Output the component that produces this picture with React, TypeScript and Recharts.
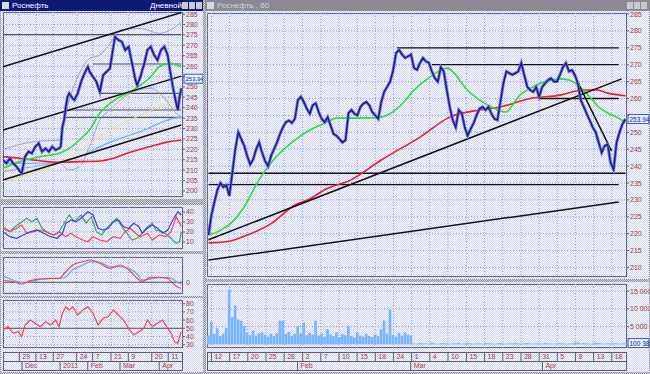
import React from "react";
import {
  LineChart, Line, BarChart, Bar, XAxis, YAxis, CartesianGrid, ReferenceLine,
} from "recharts";

const FONT = "'Liberation Sans', 'DejaVu Sans', sans-serif";
const LABEL = "#a33b3b";
const GRID = "#8d9be6";
const FRAME = "#5c5c6c";
const PLOT_BG = "repeating-conic-gradient(#d3d7f3 0% 25%, #f6f6fd 0% 50%) 0 0 / 2px 2px";
const CHROME = "repeating-conic-gradient(#8e8e96 0% 25%, #d2d2d8 0% 50%) 0 0 / 2px 2px";

// ---------- left window (daily) ----------
const leftPriceT = [0, 2, 4, 6, 8, 10, 11, 13, 15, 17, 19, 21, 23, 25, 27, 29, 31, 33, 34, 35, 36, 37, 38, 39, 41, 42, 44, 46, 48, 50, 51, 53, 55, 57, 58, 59, 61, 63, 65, 66, 68, 70, 72, 74, 76, 78, 79, 81, 82, 83, 85, 87, 89, 91, 93, 95, 97, 98, 99, 100, 101, 102, 103, 104, 105];
const leftPrice = [214.9, 213.3, 215.7, 213.3, 211.7, 209.3, 208.5, 216.5, 218.9, 218.1, 221.3, 222.9, 218.9, 220.5, 218.9, 221.3, 219.7, 220.5, 221.3, 230.9, 234.1, 240.5, 245.3, 246.9, 244.5, 243.7, 246.9, 252.5, 256.5, 259.7, 257.3, 254.9, 252.5, 247.7, 251.7, 255.7, 257.3, 258.9, 269.3, 274.1, 272.5, 271.7, 267.7, 269.3, 261.3, 253.3, 250.9, 254.9, 258.1, 260.5, 267.7, 269.3, 265.3, 262.9, 267.7, 269.3, 265.3, 259.7, 254.9, 250.1, 246.1, 242.1, 238.9, 245.3, 249.3];
const leftGreenT = [0, 10, 22, 33, 39, 45, 51, 57, 63, 69, 75, 81, 87, 92, 98, 102, 105];
const leftGreen = [210.9, 214.1, 216.5, 218.1, 220.5, 224.5, 229.3, 237.3, 242.1, 245.3, 247.7, 250.9, 254.9, 259.7, 261.3, 260.5, 259.7];
const leftRedT = [0, 10, 22, 33, 45, 57, 65, 73, 81, 90, 98, 105];
const leftRed = [216.5, 215.7, 214.5, 213.8, 214.1, 214.4, 215.7, 218.1, 220, 222.1, 223.7, 224.5];
const leftSkyT = [0, 18, 33, 45, 57, 69, 81, 92, 100, 105];
const leftSky = [213.3, 213.3, 213.8, 216.5, 221.3, 225.3, 228.5, 232.5, 234.9, 235.4];
const leftYellowT = [0, 18, 33, 45, 57, 69, 81, 92, 100, 103];
const leftYellow = [204.5, 208.5, 213.3, 218.9, 226.1, 231.7, 236.5, 240.5, 242.9, 244.5];
const leftUpperT = [0, 18, 33, 39, 45, 51, 57, 63, 69, 81, 92, 100, 105];
const leftUpper = [219.9, 223.7, 224.5, 243.7, 256.5, 263.7, 265.3, 270.9, 277.3, 278.1, 275.7, 278.1, 281.3];
const leftLowerT = [0, 18, 33, 39, 45, 51, 57, 63, 69, 77, 87, 96, 102, 105];
const leftLower = [209.3, 211.7, 213.3, 210.1, 211.7, 221.3, 234.1, 238.9, 243.7, 247.7, 249.3, 243.7, 237.3, 235.7];
const leftChannelFrom = [259.7, 229.3, 205.3];
const leftChannelTo = [285.8, 255.2, 231.7];
const leftLevels = [275.1, 261, 246.9, 238.9, 235.4];
const leftLevelStart = [0, 53, 57, 36, 36];
const leftPriceTicks = [200, 205, 210, 215, 220, 225, 230, 235, 240, 245, 250, 255, 260, 265, 270, 275, 280, 285];

// indicator panels
const dmiBlueT = [0, 4, 8, 12, 16, 20, 24, 28, 32, 35, 37, 40, 43, 46, 50, 53, 56, 59, 62, 65, 68, 71, 74, 77, 80, 82, 85, 88, 91, 94, 97, 100, 103, 105];
const dmiBlue = [20.3, 15.3, 13.7, 17, 20.3, 22, 18.7, 15.3, 13.7, 18.7, 28.7, 32, 30.3, 33.7, 40.3, 37, 23.7, 22, 23.7, 30.3, 32, 25.3, 23.7, 28.7, 25.3, 18.7, 23.7, 27, 23.7, 18.7, 22, 32, 40.3, 37];
const dmiGreenT = [0, 4, 7, 10, 14, 17, 20, 23, 27, 30, 33, 36, 39, 42, 46, 49, 52, 55, 58, 61, 64, 67, 70, 73, 76, 79, 82, 85, 88, 90, 94, 98, 102, 104, 105];
const dmiGreen = [23.7, 20.3, 25.3, 28.7, 33.7, 30.3, 33.7, 23.7, 18.7, 17, 20.3, 28.7, 37, 30.3, 37, 28.7, 35.3, 20.3, 17, 23.7, 28.7, 33.7, 25.3, 18.7, 12, 13.7, 18.7, 25.3, 28.7, 22, 20.3, 15.3, 8.7, 10.3, 20.3];
const dmiRedT = [0, 4, 8, 11, 14, 18, 22, 25, 30, 33, 37, 40, 43, 47, 50, 53, 57, 61, 65, 69, 72, 75, 78, 81, 85, 88, 92, 96, 99, 102, 104, 105];
const dmiRed = [25.3, 20.3, 23.7, 27, 18.7, 20.3, 22, 20.3, 17, 20.3, 15.3, 18.7, 15.3, 12, 10.3, 15.3, 12, 10.3, 15.3, 13.7, 20.3, 23.7, 18.7, 15.3, 18.7, 12, 17, 15.3, 20.3, 35.3, 28.7, 25.3];
const macdT = [0, 6, 11, 16, 22, 28, 33, 37, 41, 47, 52, 57, 63, 69, 74, 79, 82, 87, 92, 97, 100, 103, 105];
const macdRed = [2.3, 0.6, -1.7, 1.6, 3.3, 4, 4, 10.6, 17.3, 20.6, 22.3, 19, 14, 17.3, 12.3, 4, 0.6, 5, 5, 4, -1, -5, -6];
const macdBlue = [6.3, 2.3, -0.4, 0.6, 3, 3.6, 3.6, 5.6, 12.3, 17.3, 20.6, 20, 15.6, 15.6, 14, 8.3, 2.3, 3.3, 4.6, 5, 3.3, -0.4, -1.7];
const rsiT = [0, 3, 6, 9, 11, 13, 16, 19, 22, 25, 28, 31, 33, 35, 37, 39, 41, 44, 47, 50, 53, 56, 59, 62, 65, 68, 71, 74, 77, 80, 83, 85, 88, 91, 94, 97, 99, 101, 103, 104, 105];
const rsi = [47.9, 52, 43.9, 45.9, 39.8, 54, 60.1, 56.1, 52, 58, 54, 60.1, 52, 68.3, 76.3, 72.3, 76.3, 66.2, 72.3, 76.3, 68.3, 54, 62.2, 64.1, 72.3, 66.2, 60.1, 50, 41.8, 45.9, 50, 60.1, 52, 56.1, 60.1, 50, 43.9, 33.7, 31.7, 39.8, 45.9];

const leftDayTicks = [9.6, 19.4, 29.6, 43.4, 52.8, 63.6, 73.8, 87.6, 97.3];
const leftDayLabels = ["29", "13", "27", "24", "7", "21", "9", "20", "11"];
const leftMonthTicks = [11.2, 33.6, 49.9, 68.9, 92];
const leftMonthLabels = ["Dec", "2011", "Feb", "Mar", "Apr"];

// ---------- right window (60 min) ----------
const rightPrice = [
  219.6, 225.5, 229.4, 233, 235, 233.8, 234.4, 231.2, 238, 245,
  250, 248, 246, 243, 240.5, 242, 245, 247, 244, 241.5,
  240, 243, 245, 247, 249.5, 251.5, 253, 253.5, 252.8, 254,
  259.5, 260.5, 259, 257, 255.5, 258, 258.6, 256, 254, 253,
  254.5, 252, 249.5, 249, 248, 247, 247.7, 255.7, 256.6, 255.5,
  255, 257.5, 258.5, 259, 258, 256, 255, 254, 259, 262,
  263.5, 265, 268.4, 273.5, 274.4, 273, 272, 272.5, 273, 269,
  268.5, 270.5, 272, 271, 270.5, 268, 266, 265, 269.3, 268,
  262.5, 257.5, 253.6, 251.5, 256.6, 255.7, 251.6, 249, 251, 252.7,
  255, 257, 257.5, 256.6, 257.5, 255.5, 254, 253.6, 259, 264.5,
  268, 267.5, 267, 267.5, 268, 270.5, 267, 263.5, 262.5, 262,
  263.4, 260.5, 263.4, 264.5, 265.5, 266, 265, 265, 267, 269.3,
  270.5, 268, 268.4, 267, 264.5, 259.5, 257.5, 255.5, 253.5, 251.5,
  250, 247, 244, 246, 246.5, 241, 239, 247, 250, 252.5,
  253.9,
];
const rightGreenT = [0, 4, 8, 12, 17, 21, 28, 34, 39, 43, 51, 58, 64, 69, 73, 78, 80, 83, 86, 91, 94, 98, 100, 102, 104, 108, 113, 118, 121, 124, 128, 131, 134, 137, 140];
const rightGreen = [219.6, 221, 223.5, 228, 236, 241, 247, 250.7, 252.7, 254.2, 254.2, 254.5, 257.5, 262.5, 265.5, 268.4, 269, 267, 263.4, 259.5, 258, 256.3, 256, 258, 260.5, 263, 265, 265.8, 265.5, 264, 260.5, 257.5, 255.7, 254.5, 253];
const rightRedT = [0, 7, 13, 21, 29, 34, 39, 48, 58, 71, 81, 91, 98, 108, 118, 124, 130, 134, 140];
const rightRed = [217.3, 217.8, 219.6, 223, 228.5, 230.3, 233, 236, 241.8, 248.6, 254.5, 256.6, 257.5, 260, 261, 262.3, 262.6, 261.6, 260.8];
const rightLevels = [275, 270, 260, 237.9, 234.5];
const rightLevelStart = [63.3, 75, 111, 0, 0];
const rightLevelEnd = [137.7, 137.7, 137.7, 140, 137.7];
const trendX1 = [0, 0, 122.7];
const trendY1 = [218.2, 212.2, 267];
const trendX2 = [138.7, 137.7, 135.3];
const trendY2 = [265.8, 229.4, 244.5];
const rightPriceTicks = [210, 215, 220, 225, 230, 235, 240, 245, 250, 255, 260, 265, 270, 275, 280, 285];

// volume, thousands
const volume = [
  2.5, 6.3, 3.0, 4.6, 2.4, 3.0, 4.6, 15.5, 7.7, 11.0,
  7.0, 6.7, 5.2, 3.4, 2.6, 3.9, 2.5, 3.1, 3.4, 2.8,
  2.2, 3.0, 2.4, 3.2, 6.7, 6.7, 2.9, 3.5, 2.4, 3.0,
  5.2, 3.1, 6.1, 2.6, 3.3, 2.7, 6.7, 2.5, 3.0, 2.2,
  4.3, 2.8, 2.3, 3.4, 2.1, 2.9, 2.6, 5.2, 2.4, 2.0,
  3.4, 2.5, 2.2, 3.0, 2.4, 2.1, 2.8, 2.3, 4.3, 6.7,
  3.1, 9.7, 2.7, 2.2, 3.2, 2.5, 3.4, 2.8, 2.4,
  0.3, 0.2, 0.4, 0.3, 0.3, 0.2, 0.5, 0.3, 0.2, 0.3,
  0.4, 0.3, 0.2, 0.3, 0.3, 0.4, 0.2, 0.3, 0.5, 0.3,
  0.2, 0.3, 0.3, 0.2, 0.4, 0.3, 0.3, 0.2, 0.3, 0.4,
  0.3, 0.2, 0.3, 0.3, 0.5, 0.3, 0.2, 0.3, 0.4, 0.3,
  0.2, 0.3, 0.3, 0.2, 0.4, 0.3, 0.3, 0.2, 0.3, 0.4,
  0.3, 0.2, 0.3, 0.3, 0.5, 0.6, 0.3, 0.4, 0.3, 0.2,
  0.3, 0.5, 0.4, 0.3, 0.2, 0.3, 0.3, 0.4, 0.3, 0.2,
  0.3, 0.3,
];
const volumeTicks = [5, 10, 15];

const rightDayTicks = [1, 7.1, 13.2, 19.3, 25.4, 31.6, 37.7, 43.8, 49.9, 56, 62.1, 68.2, 74.3, 80.4, 86.6, 92.7, 98.8, 104.9, 111, 117.1, 123.2, 129.3, 135.4];
const rightDayLabels = ["12", "17", "20", "25", "28", "2", "7", "10", "15", "18", "24", "1", "4", "10", "15", "18", "23", "28", "31", "5", "8", "13", "18"];
const rightMonthTicks = [29.9, 67.9, 112.1];
const rightMonthLabels = ["Feb", "Mar", "Apr"];

const zip = (t: number[], v: number[]) => t.map((x, i) => ({ t: x, v: v[i] }));
const seq = (v: number[]) => v.map((y, i) => ({ t: i, v: y }));

const tickStyle = { fontSize: 7, fill: LABEL, fontFamily: FONT };
// the last-price tag covers the 255 label, as in the terminal
const priceFmt = (v: number) => (v === 255 ? "" : String(v));

const cellTick = (labels: string[], top: number, h: number) => (p: any) => (
  <g key={`c-${p.index}`}>
    <line x1={p.x} x2={p.x} y1={p.y + top} y2={p.y + top + h} stroke={FRAME} />
    <text x={p.x + 3} y={p.y + top + h - 2} fontSize={7} fill={LABEL} fontFamily={FONT}>
      {labels[p.index]}
    </text>
  </g>
);

const volTick = (p: any) => (
  <text key={`v-${p.index}`} x={p.x} y={p.y + 2.5} fontSize={7} fill={LABEL} fontFamily={FONT}>
    {`${p.payload.value} 000 000`}
  </text>
);

const priceTag = (text: string, w: number, fs: number) => (props: any) => {
  const vb = props.viewBox || {};
  const x = (vb.x || 0) + (vb.width || 0) + 1;
  const y = vb.y || 0;
  return (
    <g>
      <rect x={x} y={y - 4.5} width={w} height={9} fill="#e4ecff" stroke="#3d5fc4" />
      <text x={x + 1.5} y={y + 2.5} fontSize={fs} fill="#1a2a80" fontFamily={FONT}>{text}</text>
    </g>
  );
};

function Box({ l, t, w, h, bg, border }: { l: number; t: number; w: number; h: number; bg?: string; border?: string }) {
  return (
    <div
      style={{
        position: "absolute", left: l, top: t, width: w, height: h, boxSizing: "border-box",
        background: bg, border: border ? `1px solid ${border}` : undefined,
      }}
    />
  );
}

function At({ l, t, children }: { l: number; t: number; children: React.ReactNode }) {
  return <div style={{ position: "absolute", left: l, top: t }}>{children}</div>;
}

const priceLine = (data: any[], key: string) => [
  <Line key={key + "a"} data={data} dataKey="v" stroke="#6f72d6" strokeWidth={3} dot={false} isAnimationActive={false} />,
  <Line key={key + "b"} data={data} dataKey="v" stroke="#16168a" strokeWidth={1.3} dot={false} isAnimationActive={false} />,
];

export default function App() {
  const rightPriceData = seq(rightPrice);
  const volumeData = seq(volume);
  return (
    <div style={{ position: "absolute", left: 0, top: 0, width: 650, height: 374, overflow: "hidden", background: CHROME, fontFamily: FONT }}>
      {/* title bars */}
      <Box l={0} t={0} w={203} h={11} bg="#0c1a74" />
      <Box l={2} t={2} w={7} h={7} bg="#d8d8e0" />
      <div style={{ position: "absolute", left: 12, top: 0, fontSize: 8, lineHeight: "11px", color: "#fff" }}>Роснефть</div>
      <div style={{ position: "absolute", left: 150, top: 0, fontSize: 8, lineHeight: "11px", color: "#fff" }}>Дневной</div>
      <Box l={182} t={2} w={6} h={7} bg="#c8c8d0" />
      <Box l={189} t={2} w={6} h={7} bg="#c8c8d0" />
      <Box l={196} t={2} w={6} h={7} bg="#c8c8d0" />
      <Box l={205} t={0} w={445} h={11} bg="#8a8a90" />
      <Box l={207} t={2} w={7} h={7} bg="#d8d8e0" />
      <div style={{ position: "absolute", left: 217, top: 0, fontSize: 8, lineHeight: "11px", color: "#d4d4da" }}>Роснефть , 60</div>
      <Box l={627} t={2} w={6} h={7} bg="#c8c8d0" />
      <Box l={634} t={2} w={6} h={7} bg="#c8c8d0" />
      <Box l={641} t={2} w={6} h={7} bg="#c8c8d0" />

      {/* panel backgrounds */}
      <Box l={1} t={11} w={202} h={188} bg={PLOT_BG} />
      <Box l={1} t={205} w={202} h={46} bg={PLOT_BG} />
      <Box l={1} t={254} w={202} h={42} bg={PLOT_BG} />
      <Box l={1} t={298} w={202} h={74} bg={PLOT_BG} />
      <Box l={206} t={11} w={443} h={268} bg={PLOT_BG} />
      <Box l={206} t={282} w={443} h={90} bg={PLOT_BG} />

      {/* plot frames */}
      <Box l={3} t={12} w={180} h={185} border={FRAME} />
      <Box l={3} t={207} w={180} h={42} border={FRAME} />
      <Box l={3} t={257} w={180} h={37} border={FRAME} />
      <Box l={3} t={300} w={180} h={48} border={FRAME} />
      <Box l={3} t={352} w={180} h={10} border={FRAME} />
      <Box l={3} t={361} w={180} h={10} border={FRAME} />
      <Box l={207} t={13} w={420} h={264} border={FRAME} />
      <Box l={207} t={284} w={420} h={64} border={FRAME} />
      <Box l={207} t={352} w={420} h={10} border={FRAME} />
      <Box l={207} t={361} w={420} h={10} border={FRAME} />

      {/* left: daily price */}
      <At l={0} t={11}>
        <LineChart width={203} height={188} margin={{ top: 1, right: 0, bottom: 2, left: 3 }}>
          <CartesianGrid stroke={GRID} strokeDasharray="1 2" />
          <XAxis type="number" dataKey="t" domain={[0, 106]} ticks={leftDayTicks} interval={0} hide allowDataOverflow />
          <YAxis orientation="right" type="number" domain={[197.1, 286]} ticks={leftPriceTicks} interval={0} width={20}
            tickFormatter={priceFmt}
            axisLine={false} tickLine={{ stroke: FRAME }} tickSize={2} tickMargin={1} tick={tickStyle} allowDataOverflow />
          {leftLevels.map((v, i) => (
            <ReferenceLine key={`ll${i}`} segment={[{ x: leftLevelStart[i], y: v }, { x: 105, y: v }]} stroke="#55555f" strokeWidth={1.2} ifOverflow="visible" />
          ))}
          <Line data={zip(leftUpperT, leftUpper)} dataKey="v" type="monotone" stroke="#a2a4bc" strokeWidth={1} dot={false} isAnimationActive={false} />
          <Line data={zip(leftLowerT, leftLower)} dataKey="v" type="monotone" stroke="#a2a4bc" strokeWidth={1} dot={false} isAnimationActive={false} />
          <Line data={zip(leftYellowT, leftYellow)} dataKey="v" type="monotone" stroke="#f2e860" strokeWidth={1} dot={false} isAnimationActive={false} />
          <Line data={zip(leftSkyT, leftSky)} dataKey="v" type="monotone" stroke="#6cb4ff" strokeWidth={1.2} dot={false} isAnimationActive={false} />
          <Line data={zip(leftRedT, leftRed)} dataKey="v" type="monotone" stroke="#ee2020" strokeWidth={1.6} dot={false} isAnimationActive={false} />
          <Line data={zip(leftGreenT, leftGreen)} dataKey="v" type="monotone" stroke="#2ee02e" strokeWidth={1.6} dot={false} isAnimationActive={false} />
          {leftChannelFrom.map((v, i) => (
            <ReferenceLine key={`lc${i}`} segment={[{ x: 0, y: v }, { x: 105, y: leftChannelTo[i] }]} stroke="#111" strokeWidth={1.5} ifOverflow="visible" />
          ))}
          {priceLine(zip(leftPriceT, leftPrice), "lp")}
          <ReferenceLine y={253.94} stroke="none" label={priceTag("253.94", 19, 6)} />
        </LineChart>
      </At>

      {/* left: DMI */}
      <At l={0} t={205}>
        <LineChart width={203} height={46} margin={{ top: 2, right: 0, bottom: 2, left: 3 }}>
          <CartesianGrid stroke={GRID} strokeDasharray="1 2" />
          <XAxis type="number" dataKey="t" domain={[0, 106]} ticks={leftDayTicks} interval={0} hide allowDataOverflow />
          <YAxis orientation="right" type="number" domain={[3, 45]} ticks={[10, 20, 30, 40]} interval={0} width={20}
            axisLine={false} tickLine={{ stroke: FRAME }} tickSize={2} tickMargin={1} tick={tickStyle} allowDataOverflow />
          <Line data={zip(dmiGreenT, dmiGreen)} dataKey="v" stroke="#3aa85a" strokeWidth={1.2} dot={false} isAnimationActive={false} />
          <Line data={zip(dmiRedT, dmiRed)} dataKey="v" stroke="#f24848" strokeWidth={1.2} dot={false} isAnimationActive={false} />
          <Line data={zip(dmiBlueT, dmiBlue)} dataKey="v" stroke="#3c3cf0" strokeWidth={1.2} dot={false} isAnimationActive={false} />
        </LineChart>
      </At>

      {/* left: MACD */}
      <At l={0} t={254}>
        <LineChart width={203} height={42} margin={{ top: 3, right: 0, bottom: 2, left: 3 }}>
          <CartesianGrid stroke={GRID} strokeDasharray="1 2" />
          <XAxis type="number" dataKey="t" domain={[0, 106]} ticks={leftDayTicks} interval={0} hide allowDataOverflow />
          <YAxis orientation="right" type="number" domain={[-11.7, 25.3]} ticks={[-10, 0, 10, 20]} interval={0} width={20}
            tickFormatter={(v: number) => (v === 0 ? "0" : "")}
            axisLine={false} tickLine={false} tickSize={2} tickMargin={1} tick={tickStyle} allowDataOverflow />
          <ReferenceLine y={0} stroke="#55555f" />
          <Line data={zip(macdT, macdBlue)} dataKey="v" type="monotone" stroke="#62aef6" strokeWidth={1.3} dot={false} isAnimationActive={false} />
          <Line data={zip(macdT, macdRed)} dataKey="v" type="monotone" stroke="#f24848" strokeWidth={1.2} dot={false} isAnimationActive={false} />
        </LineChart>
      </At>

      {/* left: RSI + date axis */}
      <At l={0} t={298}>
        <LineChart width={203} height={74} margin={{ top: 2, right: 0, bottom: 2, left: 3 }}>
          <CartesianGrid stroke={GRID} strokeDasharray="1 2" xAxisId="d" />
          <XAxis xAxisId="d" type="number" dataKey="t" domain={[0, 106]} ticks={leftDayTicks} interval={0} height={13}
            tickSize={0} tickMargin={0} axisLine={false} tickLine={false} tick={cellTick(leftDayLabels, 4, 9)} allowDataOverflow />
          <XAxis xAxisId="m" type="number" dataKey="t" domain={[0, 106]} ticks={leftMonthTicks} interval={0} height={9}
            tickSize={0} tickMargin={0} axisLine={false} tickLine={false} tick={cellTick(leftMonthLabels, 0, 9)} allowDataOverflow />
          <YAxis orientation="right" type="number" domain={[26, 84.5]} ticks={[30, 40, 50, 60, 70, 80]} interval={0} width={20}
            axisLine={false} tickLine={{ stroke: FRAME }} tickSize={2} tickMargin={1} tick={tickStyle} allowDataOverflow />
          <ReferenceLine xAxisId="d" y={50} stroke="#55555f" />
          <Line xAxisId="d" data={zip(rsiT, rsi)} dataKey="v" stroke="#f24848" strokeWidth={1.2} dot={false} isAnimationActive={false} />
        </LineChart>
      </At>

      {/* right: hourly price */}
      <At l={205} t={11}>
        <LineChart width={445} height={268} margin={{ top: 2, right: 0, bottom: 2, left: 2 }}>
          <CartesianGrid stroke={GRID} strokeDasharray="1 2" />
          <XAxis type="number" dataKey="t" domain={[-0.5, 140.5]} ticks={rightDayTicks} interval={0} hide allowDataOverflow />
          <YAxis orientation="right" type="number" domain={[207.2, 285.3]} ticks={rightPriceTicks} interval={0} width={23}
            tickFormatter={priceFmt}
            axisLine={false} tickLine={{ stroke: FRAME }} tickSize={2} tickMargin={1} tick={tickStyle} allowDataOverflow />
          {rightLevels.map((v, i) => (
            <ReferenceLine key={`rl${i}`} segment={[{ x: rightLevelStart[i], y: v }, { x: rightLevelEnd[i], y: v }]} stroke="#111" strokeWidth={1.3} ifOverflow="visible" />
          ))}
          <Line data={zip(rightRedT, rightRed)} dataKey="v" type="monotone" stroke="#ee2020" strokeWidth={1.6} dot={false} isAnimationActive={false} />
          <Line data={zip(rightGreenT, rightGreen)} dataKey="v" type="monotone" stroke="#2ee02e" strokeWidth={1.6} dot={false} isAnimationActive={false} />
          {trendX1.map((x, i) => (
            <ReferenceLine key={`rt${i}`} segment={[{ x, y: trendY1[i] }, { x: trendX2[i], y: trendY2[i] }]} stroke="#111" strokeWidth={1.5} ifOverflow="visible" />
          ))}
          {priceLine(rightPriceData, "rp")}
          <ReferenceLine y={253.94} stroke="none" label={priceTag("253.94", 21, 6.5)} />
        </LineChart>
      </At>

      {/* right: volume + date axis */}
      <At l={205} t={282}>
        <BarChart width={445} height={90} data={volumeData} margin={{ top: 2, right: 0, bottom: 2, left: 2 }} barCategoryGap={0}>
          <CartesianGrid stroke={GRID} strokeDasharray="1 2" xAxisId="d" />
          <XAxis xAxisId="d" type="number" dataKey="t" domain={[-0.5, 140.5]} ticks={rightDayTicks} interval={0} height={13}
            tickSize={0} tickMargin={0} axisLine={false} tickLine={false} tick={cellTick(rightDayLabels, 4, 9)} allowDataOverflow />
          <XAxis xAxisId="m" type="number" dataKey="t" domain={[-0.5, 140.5]} ticks={rightMonthTicks} interval={0} height={9}
            tickSize={0} tickMargin={0} axisLine={false} tickLine={false} tick={cellTick(rightMonthLabels, 0, 9)} allowDataOverflow />
          <YAxis orientation="right" type="number" domain={[-1, 17]} ticks={volumeTicks} interval={0} width={23}
            axisLine={false} tickLine={{ stroke: FRAME }} tickSize={2} tickMargin={1} tick={volTick} allowDataOverflow />
          <Bar xAxisId="d" dataKey="v" fill="#7ab6ff" barSize={3} isAnimationActive={false} />
          <ReferenceLine xAxisId="d" y={0.4} stroke="none" label={priceTag("100 38", 21, 6.5)} />
        </BarChart>
      </At>
    </div>
  );
}
